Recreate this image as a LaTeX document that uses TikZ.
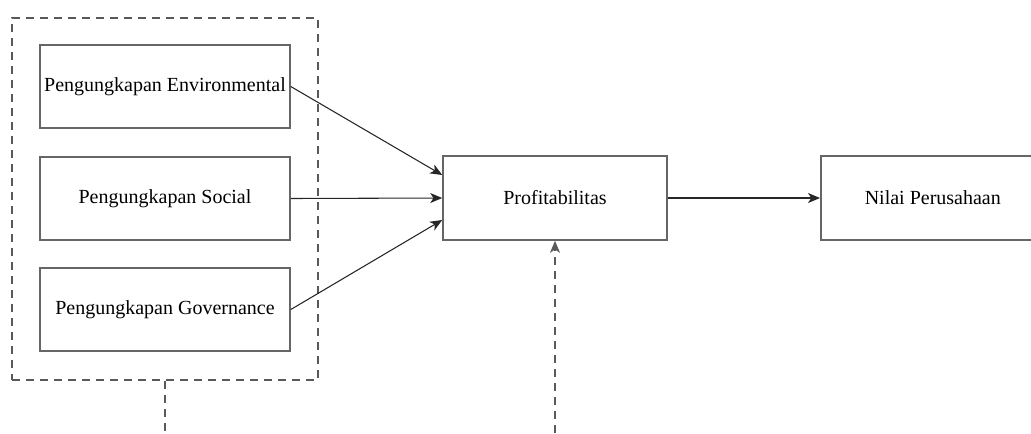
\documentclass[tikz,border=0pt]{standalone}
\usepackage{fontspec}
\setmainfont{Liberation Serif}
\usetikzlibrary{arrows.meta}
\begin{document}
\begin{tikzpicture}[x=0.75pt,y=-0.75pt,
  box/.style={draw=black!60,line width=1.2pt,fill=white,minimum width=250*0.75pt,minimum height=83*0.75pt,inner sep=0pt,font=\fontsize{15}{17}\selectfont},
  tip/.style={-{Stealth[length=9pt,width=7.5pt,inset=2.5pt]}},
  conn/.style={draw=black!85,line width=0.8pt,tip},
  dsh/.style={draw=black!65,line width=1pt,dash pattern=on 6pt off 4.5pt}]
\useasboundingbox (0,0) rectangle (1031,433);
\node[box] (E) at (165,86.5) {Pengungkapan Environmental};
\node[box] (S) at (165,198.5) {Pengungkapan Social};
\node[box] (G) at (165,309.5) {Pengungkapan Governance};
\node[box,minimum width=224*0.75pt,minimum height=84*0.75pt] (P) at (555,198) {Profitabilitas};
\node[box,minimum width=224*0.75pt,minimum height=84*0.75pt,anchor=west] (N) at (820,198) {Nilai Perusahaan};
\node[dsh,draw,minimum width=306*0.75pt,minimum height=362*0.75pt,inner sep=0pt] (D) at (165,199) {};
\coordinate (lb) at (165,433);
\coordinate (rb) at (555,433);
\draw[dsh] (D.south) -- (lb);
\draw[conn] (E.east) -- (P.west |- 0,175);
\draw[conn] (S.east) -- (P.west);
\draw[conn] (G.east) -- (P.west |- 0,220);
\draw[conn] (P.east) -- (N.west);
\draw[dsh,tip] (rb) -- (P.south);
\end{tikzpicture}
\end{document}
